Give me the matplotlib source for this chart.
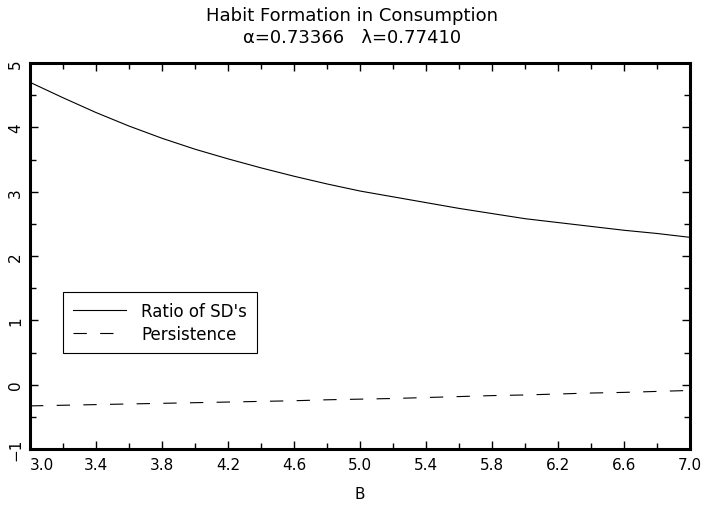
import matplotlib
matplotlib.use("Agg")
import matplotlib.pyplot as plt
from matplotlib.ticker import MultipleLocator, FixedLocator

# Data
b_values = [3.0, 3.2, 3.4, 3.6, 3.8, 4.0, 4.2, 4.4, 4.6, 4.8, 5.0,
            5.2, 5.4, 5.6, 5.8, 6.0, 6.2, 6.4, 6.6, 6.8, 7.0]
ratio_sd = [4.70, 4.46, 4.23, 4.02, 3.83, 3.66, 3.51, 3.37, 3.24, 3.12, 3.01,
            2.92, 2.83, 2.74, 2.66, 2.58, 2.52, 2.46, 2.40, 2.35, 2.29]
persistence = [-0.33, -0.32, -0.31, -0.30, -0.29, -0.28, -0.27, -0.26, -0.25, -0.235, -0.225,
               -0.215, -0.20, -0.185, -0.17, -0.16, -0.145, -0.13, -0.12, -0.105, -0.09]

x_ticks = [3.0, 3.4, 3.8, 4.2, 4.6, 5.0, 5.4, 5.8, 6.2, 6.6, 7.0]
x_tick_labels = ["3.0", "3.4", "3.8", "4.2", "4.6", "5.0", "5.4", "5.8", "6.2", "6.6", "7.0"]
y_ticks = [-1, 0, 1, 2, 3, 4, 5]
y_tick_labels = ["\u22121", "0", "1", "2", "3", "4", "5"]

title_line1 = "Habit Formation in Consumption"
title_line2 = "\u03b1=0.73366   \u03bb=0.77410"
series_labels = ["Ratio of SD's", "Persistence"]

plt.rcParams['font.family'] = ['DejaVu Sans']
plt.rcParams['font.size'] = 11

fig = plt.figure(figsize=(7.04, 5.10), dpi=100)
ax = fig.add_axes([30/704, 60/510, 660/704, 386/510])

ax.plot(b_values, ratio_sd, color='black', linewidth=0.8, label=series_labels[0])
ax.plot(b_values, persistence, color='black', linewidth=0.8,
        linestyle=(0, (12, 12)), label=series_labels[1])

ax.set_xlim(3.0, 7.0)
ax.set_ylim(-1, 5)

ax.xaxis.set_major_locator(FixedLocator(x_ticks))
ax.set_xticklabels(x_tick_labels)
ax.xaxis.set_minor_locator(MultipleLocator(0.2))
ax.yaxis.set_major_locator(FixedLocator(y_ticks))
ax.set_yticklabels(y_tick_labels, rotation=90, va='center')
ax.yaxis.set_minor_locator(MultipleLocator(0.5))

for s in ax.spines.values():
    s.set_linewidth(2.2)

ax.tick_params(which='both', direction='in', top=True, right=True, width=1.0)
ax.tick_params(which='major', length=6)
ax.tick_params(which='minor', length=4)
ax.tick_params(axis='x', which='major', pad=6, labelsize=11)
ax.tick_params(axis='y', which='major', pad=5, labelsize=11)

first = ax.get_xticklabels()[0]
first.set_ha('left')

ax.set_xlabel("B", fontsize=11, labelpad=10)

fig.text(0.5, 1 - 16/510, title_line1, ha='center', va='center', fontsize=13)
fig.text(0.5, 1 - 38/510, title_line2, ha='center', va='center', fontsize=13)

leg = ax.legend(loc='upper left', bbox_to_anchor=((63-30)/660, (450-293)/386),
                frameon=True, fancybox=False, edgecolor='black', framealpha=1,
                handlelength=3.2, handletextpad=0.9, borderpad=0.6,
                labelspacing=0.3, fontsize=12, borderaxespad=0)
leg.get_frame().set_linewidth(0.8)

fig.savefig("out.png", dpi=100)
